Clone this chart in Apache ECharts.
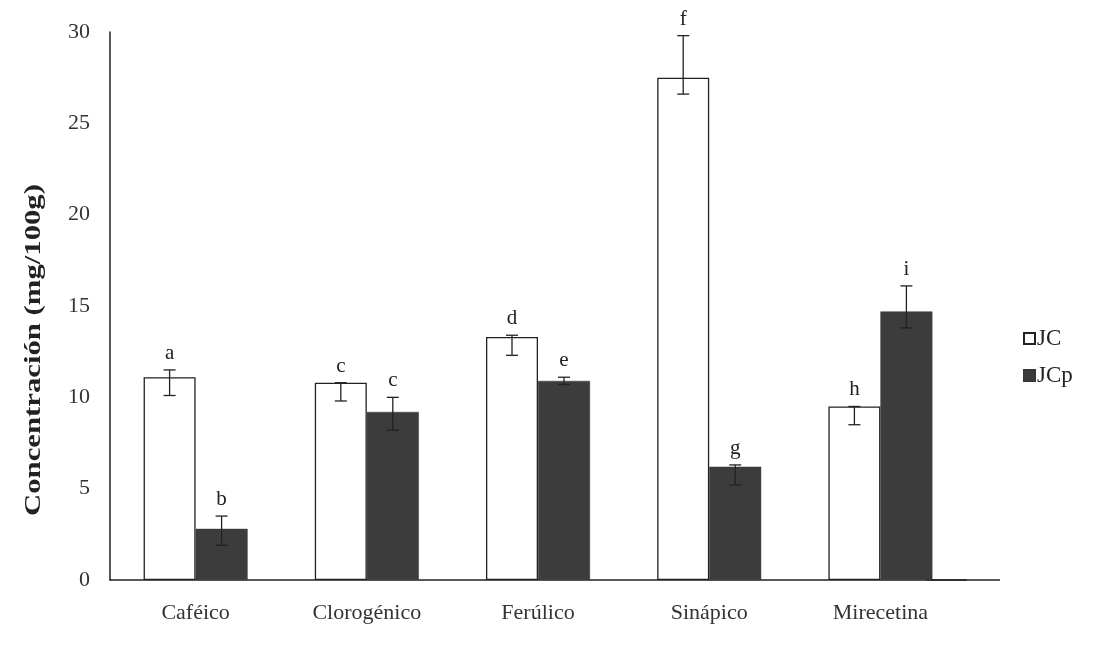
<!DOCTYPE html>
<html>
<head>
<meta charset="utf-8">
<script src="https://cdn.jsdelivr.net/npm/echarts@6/dist/echarts.min.js"></script>
<style>
  html, body { margin: 0; padding: 0; background: #ffffff; }
  #chart { width: 1097px; height: 652px; }
</style>
</head>
<body>
<div id="chart"></div>
<script>
// Compounds measured
const categories = ['Caféico', 'Clorogénico', 'Ferúlico', 'Sinápico', 'Mirecetina'];

// Mean concentration (mg/100g)
const jcValues  = [11.1, 10.8, 13.3, 27.5, 9.5];
const jcpValues = [2.8, 9.2, 10.9, 6.2, 14.7];

// Error bar extents (low, high)
const jcErrLow   = [10.1, 9.8, 12.3, 26.6, 8.5];
const jcErrHigh  = [11.5, 10.8, 13.4, 29.8, 9.5];
const jcpErrLow  = [1.9, 8.2, 10.7, 5.2, 13.8];
const jcpErrHigh = [3.5, 10.0, 11.1, 6.3, 16.1];

// Significance letters
const jcLetters  = ['a', 'c', 'd', 'f', 'h'];
const jcpLetters = ['b', 'c', 'e', 'g', 'i'];

// Y axis ticks
const yMin = 0, yMax = 30, yStep = 5;

const SERIF = '"Liberation Serif", "DejaVu Serif", serif';
const BAR_W = 52;

function errorSeries(name, low, high, letters, side) {
  const data = categories.map((c, i) => [i, low[i], high[i]]);
  return {
    type: 'custom',
    name: name + '_err',
    data: data,
    z: 10,
    silent: true,
    renderItem: function (params, api) {
      const idx = api.value(0);
      const lo = api.coord([idx, api.value(1)]);
      const hi = api.coord([idx, api.value(2)]);
      const x = lo[0] + side * BAR_W / 2;
      const cap = 6;
      const style = { stroke: '#222', lineWidth: 1.3 };
      return {
        type: 'group',
        children: [
          { type: 'line', shape: { x1: x, y1: hi[1], x2: x, y2: lo[1] }, style: style },
          { type: 'line', shape: { x1: x - cap, y1: hi[1], x2: x + cap, y2: hi[1] }, style: style },
          { type: 'line', shape: { x1: x - cap, y1: lo[1], x2: x + cap, y2: lo[1] }, style: style },
          {
            type: 'text',
            style: {
              x: x, y: hi[1] - 6,
              text: letters[idx],
              fill: '#222',
              font: '21px ' + SERIF,
              textAlign: 'center',
              textVerticalAlign: 'bottom'
            }
          }
        ]
      };
    }
  };
}

const chart = echarts.init(document.getElementById('chart'), null, { renderer: 'canvas' });

chart.setOption({
  backgroundColor: '#ffffff',
  animation: false,
  grid: { left: 110, top: 32, width: 856, bottom: 72 },
  legend: {
    orient: 'vertical',
    left: 1018,
    top: 322,
    itemWidth: 11,
    itemHeight: 11,
    itemGap: 14,
    icon: 'rect',
    data: ['JC', 'JCp'],
    textStyle: { fontFamily: SERIF, fontSize: 23, color: '#222', padding: [0, 0, 0, -3] }
  },
  xAxis: {
    type: 'category',
    data: categories,
    axisLine: { lineStyle: { color: '#222', width: 1.5 } },
    axisTick: { show: false },
    axisLabel: { fontFamily: SERIF, fontSize: 22, color: '#333', margin: 22 }
  },
  yAxis: {
    type: 'value',
    min: yMin,
    max: yMax,
    interval: yStep,
    axisLine: { show: true, lineStyle: { color: '#222', width: 1.5 } },
    axisTick: { show: false },
    splitLine: { show: false },
    axisLabel: { fontFamily: SERIF, fontSize: 22, color: '#333', margin: 20 }
  },
  series: [
    {
      name: 'JC',
      type: 'bar',
      data: jcValues,
      barWidth: BAR_W,
      barGap: '0%',
      itemStyle: { color: '#ffffff', borderColor: '#222', borderWidth: 1.3 }
    },
    {
      name: 'JCp',
      type: 'bar',
      data: jcpValues,
      barWidth: BAR_W,
      barGap: '0%',
      itemStyle: { color: '#3c3c3c', borderColor: '#383838', borderWidth: 0.5 }
    },
    errorSeries('JC', jcErrLow, jcErrHigh, jcLetters, -1),
    errorSeries('JCp', jcpErrLow, jcpErrHigh, jcpLetters, 1)
  ]
});

// Axis title and the x-axis line running on past the last category
const zeroY = chart.convertToPixel({ yAxisIndex: 0 }, 0);
const axisEnd = chart.convertToPixel({ xAxisIndex: 0 }, categories.length - 1) + BAR_W * 1.65;
chart.setOption({
  graphic: [
    {
      type: 'text',
      x: 34,
      y: 350,
      rotation: Math.PI / 2,
      scaleX: 1.28,
      style: {
        text: 'Concentración (mg/100g)',
        font: 'bold 24px ' + SERIF,
        fill: '#222',
        textAlign: 'center',
        textVerticalAlign: 'middle'
      }
    },
    {
      type: 'line',
      shape: { x1: axisEnd - 40, y1: zeroY, x2: 1000, y2: zeroY },
      style: { stroke: '#222', lineWidth: 1.5 }
    }
  ]
});
</script>
</body>
</html>
